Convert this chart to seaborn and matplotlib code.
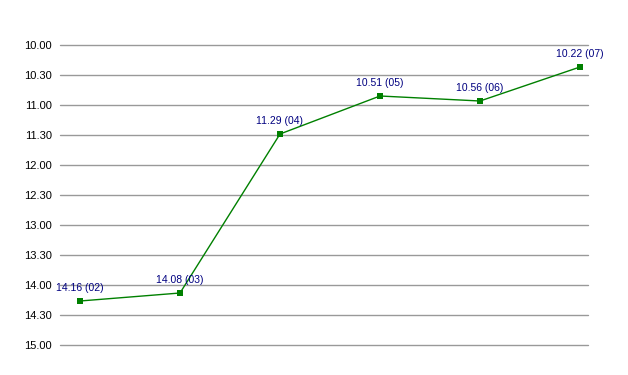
import matplotlib
matplotlib.use("Agg")
import matplotlib.pyplot as plt
import seaborn as sns
import pandas as pd

# Data: times as "h.mm" strings, period labels
times = ["14.16", "14.08", "11.29", "10.51", "10.56", "10.22"]
periods = ["02", "03", "04", "05", "06", "07"]
tick_labels = ["10.00", "10.30", "11.00", "11.30", "12.00", "12.30",
               "13.00", "13.30", "14.00", "14.30", "15.00"]

def to_minutes(s):
    h, m = s.split(".")
    return int(h) * 60 + int(m)

df = pd.DataFrame({
    "idx": list(range(len(times))),
    "minutes": [to_minutes(t) for t in times],
    "label": [f"{t} ({p})" for t, p in zip(times, periods)],
})

sns.set_theme(style="white")
plt.rcParams["font.family"] = ["Liberation Sans", "DejaVu Sans"]

W, H = 628, 375
fig = plt.figure(figsize=(W / 100, H / 100), dpi=100)
ax = fig.add_axes([60 / W, 1 - 345 / H, (588 - 60) / W, 300 / H])

tick_vals = [to_minutes(t) for t in tick_labels]
for v in tick_vals:
    ax.axhline(v, color="#999999", lw=1, zorder=0, clip_on=False)

sns.lineplot(data=df, x="idx", y="minutes", ax=ax, color="#008000",
             lw=1, marker="s", markersize=5, markeredgewidth=0, zorder=3)

for _, r in df.iterrows():
    ax.annotate(r["label"], (r["idx"], r["minutes"]), xytext=(0, 5.5),
                textcoords="offset points", ha="center", va="bottom",
                fontsize=7.5, color="#000080")

ax.set_xlim(-0.2, 5.08)
ax.set_ylim(tick_vals[-1], tick_vals[0])
ax.set_yticks(tick_vals)
ax.set_yticklabels(tick_labels, fontsize=8, color="#000000")
ax.set_xticks([])
ax.set_xlabel("")
ax.set_ylabel("")
ax.tick_params(axis="y", length=0, pad=6)
for s in ax.spines.values():
    s.set_visible(False)
ax.set_facecolor("white")
fig.patch.set_facecolor("white")

fig.savefig("out.png", dpi=100)
